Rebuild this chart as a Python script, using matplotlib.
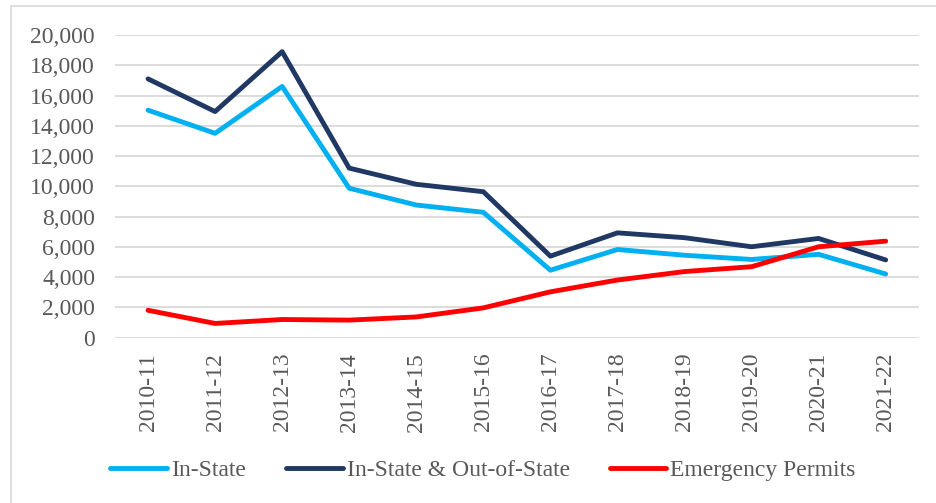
import matplotlib
matplotlib.use("Agg")
import matplotlib.pyplot as plt
import matplotlib.ticker as mticker
from matplotlib.patches import Rectangle
import numpy as np

# Data
years = ["2010-11", "2011-12", "2012-13", "2013-14", "2014-15", "2015-16",
         "2016-17", "2017-18", "2018-19", "2019-20", "2020-21", "2021-22"]
in_state = [15030, 13500, 16600, 9870, 8760, 8280, 4450, 5820, 5440, 5160, 5500, 4200]
in_out_state = [17100, 14940, 18900, 11200, 10130, 9640, 5380, 6920, 6600, 6000, 6550, 5130]
emergency = [1800, 930, 1190, 1150, 1360, 1960, 3020, 3800, 4360, 4680, 6000, 6370]

plt.rcParams["font.family"] = ["Liberation Serif", "DejaVu Serif"]
TEXT = "#595959"
GRID = "#d9d9d9"
FS = 17

fig = plt.figure(figsize=(9.37, 5.03), dpi=100, facecolor="white")
ax = fig.add_axes([0.1222, 0.329, 0.8588, 0.6014])

x = np.arange(len(years))
ax.plot(x, in_state, color="#00b0f0", lw=3.5, label="In-State", solid_capstyle="round", zorder=3)
ax.plot(x, in_out_state, color="#1f3864", lw=3.5, label="In-State & Out-of-State", solid_capstyle="round", zorder=3)
ax.plot(x, emergency, color="#ff0000", lw=3.5, label="Emergency Permits", solid_capstyle="round", zorder=3)

ax.set_xlim(-0.5, len(years) - 0.5)
ax.set_ylim(0, 20000)
ax.set_yticks(range(0, 20001, 2000))
ax.yaxis.set_major_formatter(mticker.FuncFormatter(lambda v, _: f"{int(v):,}"))
ax.set_xticks(x)
ax.set_xticklabels(years, rotation=90)
ax.tick_params(axis="both", length=0, labelsize=FS, labelcolor=TEXT)
ax.tick_params(axis="y", pad=14)
ax.tick_params(axis="x", pad=11)
ax.grid(axis="y", color=GRID, linewidth=1.3, zorder=0)
for s in ax.spines.values():
    s.set_visible(False)

leg = fig.legend(loc="center", bbox_to_anchor=(0.5155, 0.0656), ncol=3, frameon=False,
                 fontsize=FS, handlelength=2.4, handletextpad=0.17, columnspacing=1.7,
                 borderaxespad=0, borderpad=0)
for t in leg.get_texts():
    t.set_color(TEXT)

# Light border around the chart
fig.add_artist(Rectangle((11 / 937, -0.1), 1.0, (503 - 6) / 503 + 0.1, transform=fig.transFigure,
                         fill=False, edgecolor=GRID, linewidth=1.2))

fig.savefig("out.png", dpi=100)
